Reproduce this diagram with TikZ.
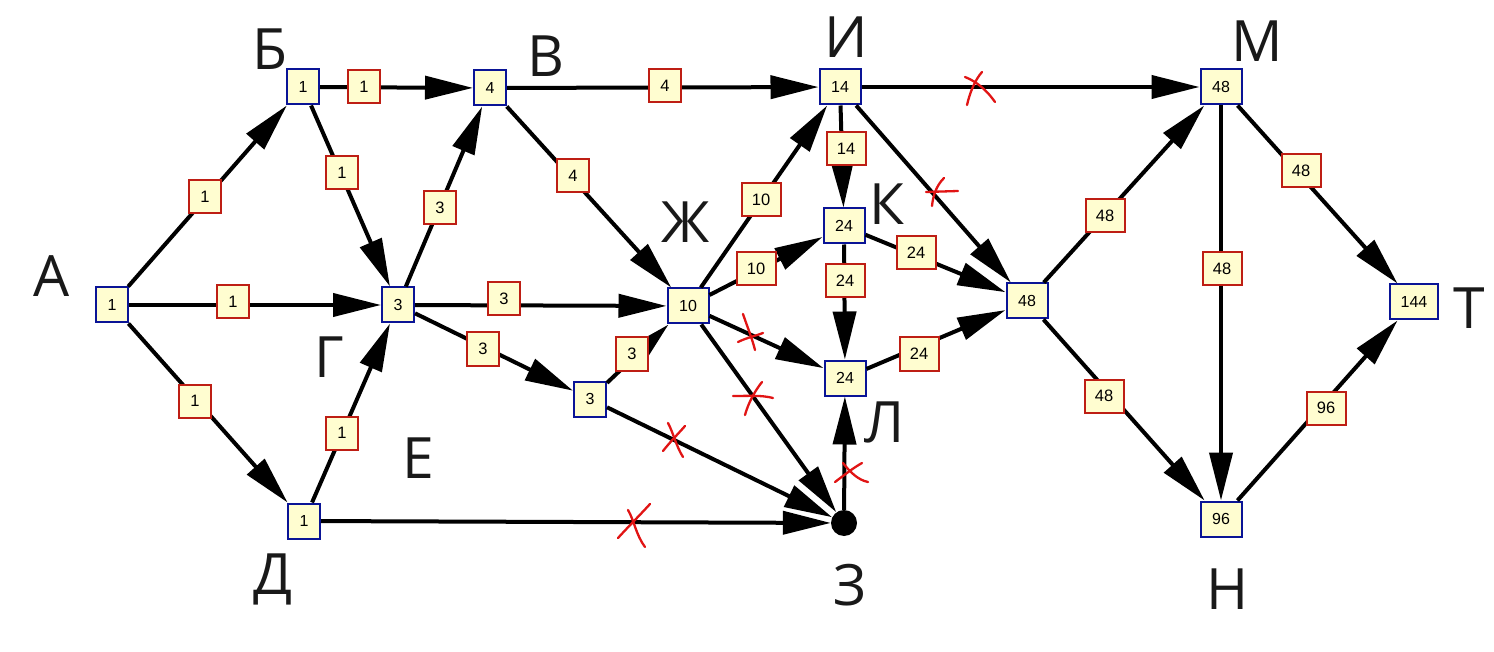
\documentclass[tikz,border=0pt]{standalone}
\usepackage{fontspec}
\setmainfont{Liberation Sans}
\newfontfamily\letterfont{Open Sans}
\usetikzlibrary{arrows.meta}
\definecolor{cream}{RGB}{255,253,208}
\definecolor{nblue}{RGB}{10,20,150}
\definecolor{lred}{RGB}{190,30,20}
\definecolor{xred}{RGB}{225,20,20}
\begin{document}
\begin{tikzpicture}[x=1pt,y=-1pt,
  vbox/.style={draw=nblue, line width=2pt, fill=cream, minimum width=32pt, minimum height=35pt, inner sep=0pt, font=\fontsize{16}{16}\selectfont},
  vboxb/.style={vbox, minimum width=41pt},
  vboxc/.style={vbox, minimum width=48pt},
  lbox/.style={draw=lred, line width=2pt, fill=cream, minimum width=32pt, minimum height=33pt, inner sep=0pt, font=\fontsize{16.5}{16.5}\selectfont},
  lboxb/.style={lbox, minimum width=39pt},
  letter/.style={anchor=base, inner sep=0pt, font=\letterfont\fontsize{57}{57}\selectfont, text=black!90},
  edge/.style={line width=4pt, -{Triangle[length=48pt,width=23pt]}},
  xmark/.style={draw=xred, line width=2.3pt, line cap=round}]
\useasboundingbox (0,0) rectangle (1494,652);
\fill[white] (0,0) rectangle (1494,652);

% vertices
\node[vbox]  (A)  at (112,305) {1};
\node[vbox]  (B)  at (303,87)  {1};
\node[vbox]  (V)  at (490,88)  {4};
\node[vboxb] (I)  at (840,87)  {14};
\node[vboxb] (M)  at (1221,87) {48};
\node[vbox]  (G)  at (398,305) {3};
\node[vboxb] (Zh) at (688,306) {10};
\node[vboxb] (K)  at (844,226) {24};
\node[vboxb] (P)  at (1027,301) {48};
\node[vboxc] (T)  at (1414,302) {144};
\node[vbox]  (E)  at (590,399) {3};
\node[vboxb] (L)  at (845,378) {24};
\node[vbox]  (D)  at (304,521) {1};
\node[circle, fill=black, minimum size=26pt, inner sep=0pt] (Z) at (844,523) {};
\node[vboxb] (N)  at (1221,519) {96};

% vertex letters
\node[letter] (tA)  at (52,297)   {А};
\node[letter] (tB)  at (270,70)   {Б};
\node[letter] (tV)  at (546,77)   {В};
\node[letter] (tI)  at (846,58)   {И};
\node[letter] (tM)  at (1257,62)  {М};
\node[letter] (tG)  at (329,377)  {Г};
\node[letter] (tZh) at (686,243)  {Ж};
\node[letter] (tK)  at (887,225)  {К};
\node[letter] (tT)  at (1469,328) {Т};
\node[letter] (tE)  at (418,478)  {Е};
\node[letter] (tL)  at (885,442)  {Л};
\node[letter] (tD)  at (273,594)  {Д};
\node[letter] (tZ)  at (850,605)  {З};
\node[letter] (tN)  at (1228,609) {Н};

% edges
\draw[edge] (A) -- (B);
\draw[edge] (A) -- (G);
\draw[edge] (A) -- (D);
\draw[edge] (B) -- (V);
\draw[edge] (B) -- (G);
\draw[edge] (D) -- (G);
\draw[edge] (G) -- (V);
\draw[edge] (G) -- (Zh);
\draw[edge] (G) -- (E);
\draw[edge] (V) -- (I);
\draw[edge] (V) -- (Zh);
\draw[edge] (E) -- (Zh);
\draw[edge] (Zh) -- (I);
\draw[edge] (Zh) -- (K);
\draw[edge] (Zh) -- (L);
\draw[edge] (Zh) -- (Z);
\draw[edge] (E) -- (Z);
\draw[edge] (D) -- (Z);
\draw[edge] (Z) -- (L);
\draw[edge] (I) -- (K);
\draw[edge] (K) -- (L);
\draw[edge] (I) -- (M);
\draw[edge] (I) -- (P);
\draw[edge] (K) -- (P);
\draw[edge] (L) -- (P);
\draw[edge] (P) -- (M);
\draw[edge] (P) -- (N);
\draw[edge] (M) -- (N);
\draw[edge] (M) -- (T);
\draw[edge] (N) -- (T);

% edge labels
\node[lbox]  (lAB)  at (205,197) {1};
\node[lbox]  (lAG)  at (233,302) {1};
\node[lbox]  (lAD)  at (195,401) {1};
\node[lbox]  (lBV)  at (364,87)  {1};
\node[lbox]  (lBG)  at (342,173) {1};
\node[lbox]  (lDG)  at (342,433) {1};
\node[lbox]  (lGV)  at (440,208) {3};
\node[lbox]  (lGZh) at (504,299) {3};
\node[lbox]  (lGE)  at (483,349) {3};
\node[lbox]  (lVI)  at (665,86)  {4};
\node[lbox]  (lVZh) at (573,176) {4};
\node[lbox]  (lEZh) at (632,354) {3};
\node[lboxb] (lZhI) at (761,200) {10};
\node[lboxb] (lZhK) at (756,269) {10};
\node[lboxb] (lIK)  at (846,149) {14};
\node[lboxb] (lKL)  at (845,281) {24};
\node[lboxb] (lKP)  at (916,253) {24};
\node[lboxb] (lLP)  at (919,354) {24};
\node[lboxb] (lPM)  at (1105,216) {48};
\node[lboxb] (lPN)  at (1104,396) {48};
\node[lboxb] (lMN)  at (1222,269) {48};
\node[lboxb] (lMT)  at (1301,171) {48};
\node[lboxb] (lNT)  at (1326,408) {96};

% red crosses
\draw[xmark] (967,105) .. controls (970,92) and (975,80) .. (982,72);
\draw[xmark] (965,77) .. controls (978,82) and (988,92) .. (995,102);
\draw[xmark] (926,192) -- (958,191);
\draw[xmark] (944,178) .. controls (936,186) and (933,196) .. (932,206);
\draw[xmark] (743,314) .. controls (747,326) and (752,338) .. (755,350);
\draw[xmark] (738,342) .. controls (746,338) and (755,336) .. (763,333);
\draw[xmark] (733,396) .. controls (748,396) and (762,395) .. (773,398);
\draw[xmark] (762,382) .. controls (754,392) and (748,404) .. (745,415);
\draw[xmark] (663,451) .. controls (670,442) and (678,434) .. (685,426);
\draw[xmark] (668,423) .. controls (673,432) and (676,446) .. (683,457);
\draw[xmark] (618,538) .. controls (628,527) and (640,515) .. (650,504);
\draw[xmark] (628,510) .. controls (634,520) and (636,535) .. (645,547);
\draw[xmark] (835,482) .. controls (843,476) and (853,468) .. (862,463);
\draw[xmark] (843,463) .. controls (850,472) and (858,480) .. (868,482);
\end{tikzpicture}
\end{document}
